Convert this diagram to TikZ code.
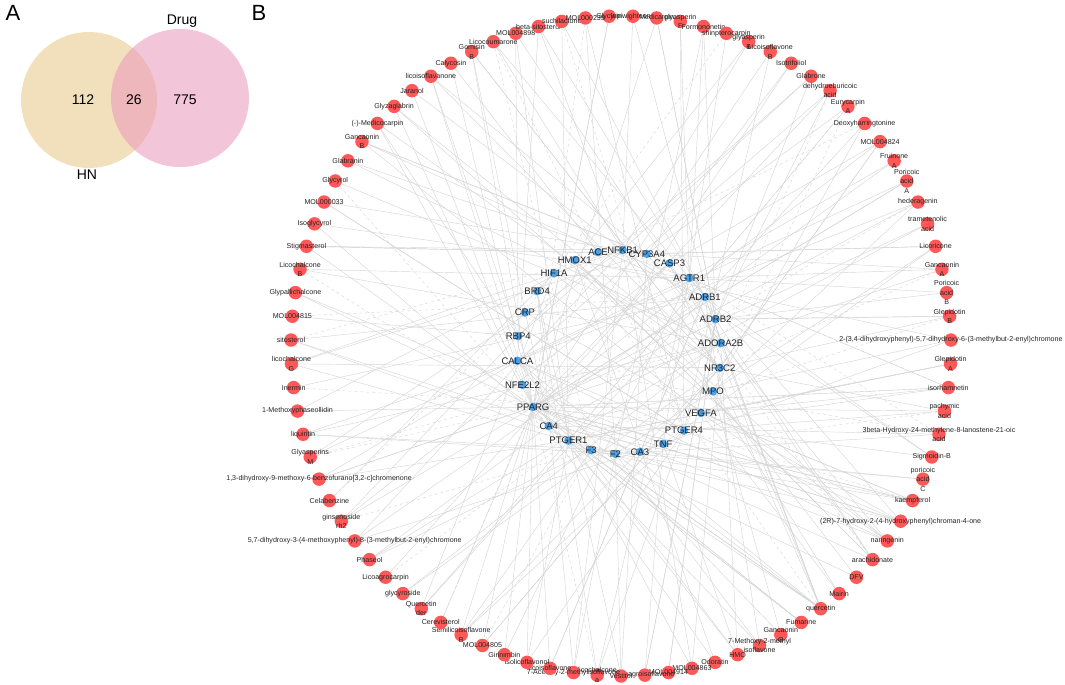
\documentclass[tikz,border=0pt]{standalone}
\usepackage{fontspec}
\setmainfont{Liberation Sans}
\usetikzlibrary{backgrounds}
\definecolor{cred}{RGB}{255,88,88}
\definecolor{cblue}{RGB}{78,160,228}
\definecolor{labgray}{RGB}{35,35,35}
\definecolor{venL}{RGB}{232,198,135}
\definecolor{venR}{RGB}{234,150,186}
\definecolor{lnkgray}{RGB}{214,214,214}
\newcommand\clabfont{\fontsize{7.1}{9.5}\selectfont}
\newcommand\glabfont{\fontsize{9.5}{11}\selectfont}
\newcommand\cnode[2]{\node[cmp,label={[clab]center:{#2}}] (c#1) at ({92.07-(#1)*4.138}:330pt) {};}
\newcommand\gnode[2]{\node[gen,label={[glab]center:{#2}}] (g#1) at ({88-(#1)*13.846}:102pt) {};}
\tikzset{
  cmp/.style={circle,fill=cred,draw=none,minimum size=13.5pt,inner sep=0pt},
  gen/.style={circle,fill=cblue,draw=none,minimum size=8.5pt,inner sep=0pt},
  clab/.style={font=\clabfont,text=labgray,align=center,inner sep=0pt},
  glab/.style={font=\glabfont,text=labgray,align=center,inner sep=0pt},
  lnk/.style={draw=lnkgray,line width=0.45pt},
  vtxt/.style={font=\fontsize{14}{16}\selectfont,text=black,inner sep=0pt},
  ptxt/.style={font=\fontsize{22}{26}\selectfont,text=black,inner sep=0pt}
}
\begin{document}
\begin{tikzpicture}[x=1pt,y=-1pt]
\useasboundingbox (0,0) rectangle (1065,685);

% ---- Panel A: Venn ----
\fill[venL,fill opacity=.55] (89,100) circle (68pt);
\fill[venR,fill opacity=.55] (180,98) circle (69pt);
\node[vtxt] (v112) at (83,100) {112};
\node[vtxt] (v26) at (134,100) {26};
\node[vtxt] (v775) at (185,100) {775};
\node[vtxt] (vdrug) at (182,21) {Drug};
\node[vtxt] (vhn) at (87,175) {HN};
\node[ptxt] (pA) at (13,13) {A};
\node[ptxt] (pB) at (259,13) {B};

% ---- Panel B: compounds ----
\begin{scope}[shift={(621,346)}]
\cnode{0}{Glycyrin}
\cnode{1}{lupiwighteone}
\cnode{2}{Medicarpin}
\cnode{3}{glyasperin\\F}
\cnode{4}{Formononetin}
\cnode{5}{shinpterocarpin}
\cnode{6}{glyasperin\\B}
\cnode{7}{Licoisoflavone\\B}
\cnode{8}{Isotrifoliol}
\cnode{9}{Glabrone}
\cnode{10}{dehydroeburicoic\\acid}
\cnode{11}{Eurycarpin\\A}
\cnode{12}{Deoxyharringtonine}
\cnode{13}{MOL004824}
\cnode{14}{Fruinone\\A}
\cnode{15}{Poricoic\\acid\\A}
\cnode{16}{hederagenin}
\cnode{17}{trametenolic\\acid}
\cnode{18}{Licoricone}
\cnode{19}{Gancaonin\\A}
\cnode{20}{Poricoic\\acid\\B}
\cnode{21}{Glepidotin\\B}
\cnode{22}{2-(3,4-dihydroxyphenyl)-5,7-dihydroxy-6-(3-methylbut-2-enyl)chromone}
\cnode{23}{Glepidotin\\A}
\cnode{24}{isorhamnetin}
\cnode{25}{pachymic\\acid}
\cnode{26}{3beta-Hydroxy-24-methylene-8-lanostene-21-oic\\acid}
\cnode{27}{Sigmoidin-B}
\cnode{28}{poricoic\\acid\\C}
\cnode{29}{kaempferol}
\cnode{30}{(2R)-7-hydroxy-2-(4-hydroxyphenyl)chroman-4-one}
\cnode{31}{naringenin}
\cnode{32}{arachidonate}
\cnode{33}{DFV}
\cnode{34}{Mairin}
\cnode{35}{quercetin}
\cnode{36}{Fumarine}
\cnode{37}{Gancaonin\\G}
\cnode{38}{7-Methoxy-2-methyl\\isoflavone}
\cnode{39}{HMO}
\cnode{40}{Odoratin}
\cnode{41}{MOL004863}
\cnode{42}{MOL004914}
\cnode{43}{Licoagroisoflavone}
\cnode{44}{Vestitol}
\cnode{45}{licochalcone\\a}
\cnode{46}{7-Acetoxy-2-methylisoflavone}
\cnode{47}{licoisoflavone}
\cnode{48}{isolicoflavonol}
\cnode{49}{Girinimbin}
\cnode{50}{MOL004805}
\cnode{51}{Semilicoisoflavone\\B}
\cnode{52}{Cerevisterol}
\cnode{53}{Quercetin\\der}
\cnode{54}{glycyroside}
\cnode{55}{Licoagrocarpin}
\cnode{56}{Phaseol}
\cnode{57}{5,7-dihydroxy-3-(4-methoxyphenyl)-8-(3-methylbut-2-enyl)chromone}
\cnode{58}{ginsenoside\\rh2}
\cnode{59}{Celabenzine}
\cnode{60}{1,3-dihydroxy-9-methoxy-6-benzofurano[3,2-c]chromenone}
\cnode{61}{Glyasperins\\M}
\cnode{62}{liquiritin}
\cnode{63}{1-Methoxyphaseollidin}
\cnode{64}{Inermin}
\cnode{65}{licochalcone\\G}
\cnode{66}{sitosterol}
\cnode{67}{MOL004815}
\cnode{68}{Glypallichalcone}
\cnode{69}{Licochalcone\\B}
\cnode{70}{Stigmasterol}
\cnode{71}{Isoglycyrol}
\cnode{72}{MOL000033}
\cnode{73}{Glycyrol}
\cnode{74}{Glabranin}
\cnode{75}{Gancaonin\\B}
\cnode{76}{(-)-Medicocarpin}
\cnode{77}{Glyzaglabrin}
\cnode{78}{Jaranol}
\cnode{79}{licoisoflavanone}
\cnode{80}{Calycosin}
\cnode{81}{Gomisin\\B}
\cnode{82}{Licocoumarone}
\cnode{83}{MOL004898}
\cnode{84}{beta-sitosterol}
\cnode{85}{suchilactone}
\cnode{86}{MOL000239}
\end{scope}

% ---- Panel B: targets ----
\begin{scope}[shift={(619,352)}]
\gnode{0}{NFKB1}
\gnode{1}{CYP3A4}
\gnode{2}{CASP3}
\gnode{3}{AGTR1}
\gnode{4}{ADRB1}
\gnode{5}{ADRB2}
\gnode{6}{ADORA2B}
\gnode{7}{NR3C2}
\gnode{8}{MPO}
\gnode{9}{VEGFA}
\gnode{10}{PTGER4}
\gnode{11}{TNF}
\gnode{12}{CA3}
\gnode{13}{F2}
\gnode{14}{F3}
\gnode{15}{PTGER1}
\gnode{16}{CA4}
\gnode{17}{PPARG}
\gnode{18}{NFE2L2}
\gnode{19}{CALCA}
\gnode{20}{RBP4}
\gnode{21}{CRP}
\gnode{22}{BRD4}
\gnode{23}{HIF1A}
\gnode{24}{HMOX1}
\gnode{25}{ACE}
\end{scope}

% ---- connectors ----
\begin{pgfonlayer}{background}
\pgfmathsetseed{11}
\foreach \k in {0,...,86}{
  \pgfmathrandominteger{\dd}{2}{4}
  \ifnum\k=35 \def\dd{12}\fi
  \ifnum\k=29 \def\dd{7}\fi
  \ifnum\k=31 \def\dd{6}\fi
  \ifnum\k=24 \def\dd{6}\fi
  \ifnum\k=30 \def\dd{6}\fi
  \ifnum\k=32 \def\dd{6}\fi
  \foreach \j in {1,...,\dd}{
    \pgfmathrandominteger{\rr}{0}{44}
    \pgfmathtruncatemacro\gi{{17,17,17,17,17,17,17,15,15,15,16,16,14,14,13,13,7,7,5,5,4,4,3,3,1,1,0,0,6,6,2,8,9,10,10,11,12,18,19,20,21,22,23,24,25}[\rr]}
    \pgfmathrandominteger{\ss}{0}{7}
    \ifnum\ss=0 \def\st{dashed}\else\def\st{solid}\fi
    \draw[lnk,\st] (c\k) -- (g\gi);
  }
}
\end{pgfonlayer}
\end{tikzpicture}
\end{document}
